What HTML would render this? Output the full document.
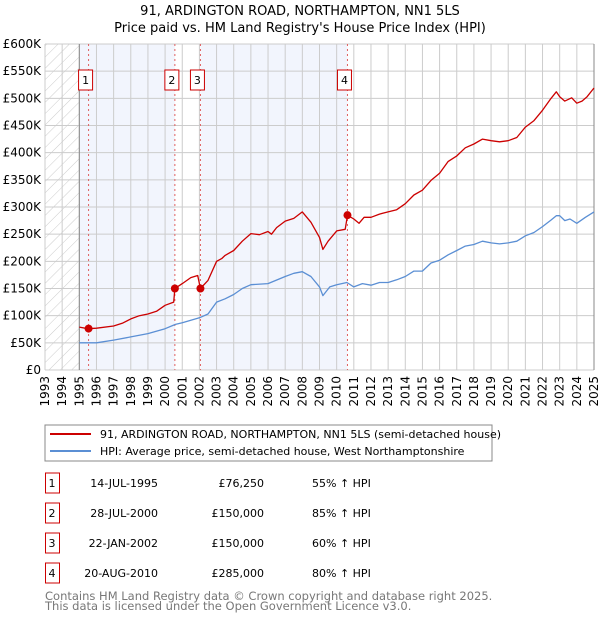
<!DOCTYPE html>
<html><head><meta charset="utf-8"><style>
body{margin:0;background:#fff;width:600px;height:620px;overflow:hidden;font-family:"DejaVu Sans","Liberation Sans",sans-serif}
svg text{font-family:"DejaVu Sans","Liberation Sans",sans-serif}
</style></head><body>
<svg id="c" width="600" height="620">
<defs><pattern id="hatch" width="8" height="8" patternUnits="userSpaceOnUse" patternTransform="rotate(45)"><line x1="0" y1="0" x2="0" y2="8" stroke="#ccc" stroke-width="1"/></pattern></defs>
<text x="300" y="15" text-anchor="middle" font-size="13" fill="#000">91, ARDINGTON ROAD, NORTHAMPTON, NN1 5LS</text>
<text x="300" y="32" text-anchor="middle" font-size="13" fill="#000">Price paid vs. HM Land Registry's House Price Index (HPI)</text>
<g id="plot"></g>
<rect x="45" y="425" width="447" height="36" fill="#fff" stroke="#888"/>
<line x1="50" y1="434" x2="91" y2="434" stroke="#cc0000" stroke-width="2"/>
<text x="100" y="438" font-size="11">91, ARDINGTON ROAD, NORTHAMPTON, NN1 5LS (semi-detached house)</text>
<line x1="50" y1="451" x2="91" y2="451" stroke="#5b8fd4" stroke-width="2"/>
<text x="100" y="455" font-size="11">HPI: Average price, semi-detached house, West Northamptonshire</text>
<g id="tbl" font-size="11"></g>
<text x="45" y="600" font-size="11.5" fill="#777">Contains HM Land Registry data © Crown copyright and database right 2025.</text>
<text x="45" y="610" font-size="11.5" fill="#777">This data is licensed under the Open Government Licence v3.0.</text>
</svg>
<script>
const years=[1993,1994,1995,1996,1997,1998,1999,2000,2001,2002,2003,2004,2005,2006,2007,2008,2009,2010,2011,2012,2013,2014,2015,2016,2017,2018,2019,2020,2021,2022,2023,2024,2025];
const yTicks=[0,50,100,150,200,250,300,350,400,450,500,550,600];
const yTickLabels=["£0","£50K","£100K","£150K","£200K","£250K","£300K","£350K","£400K","£450K","£500K","£550K","£600K"];
const priceT=[1995,1995.5,1996,1997,1997.5,1998,1998.5,1999,1999.5,2000,2000.5,2000.57,2001,2001.5,2001.9,2002.06,2002.5,2003,2003.3,2003.5,2004,2004.5,2005,2005.5,2006,2006.2,2006.5,2007,2007.5,2008,2008.5,2009,2009.2,2009.5,2010,2010.5,2010.63,2011,2011.3,2011.6,2012,2012.5,2013,2013.5,2014,2014.5,2015,2015.5,2016,2016.5,2017,2017.5,2018,2018.5,2019,2019.5,2020,2020.5,2021,2021.5,2022,2022.5,2022.8,2023,2023.3,2023.7,2024,2024.3,2024.6,2025];
const priceV=[79,76,77,81,86,94,100,103,108,119,125,150,159,170,174,150,165,200,205,211,220,237,251,249,255,250,262,274,279,291,272,244,222,237,256,259,285,278,270,281,281,287,291,295,306,322,331,349,362,384,394,409,416,425,422,420,422,428,447,459,478,500,512,503,495,501,491,495,503,519];
const hpiT=[1995,1996,1997,1998,1999,2000,2000.6,2001,2002,2002.5,2003,2003.5,2004,2004.5,2005,2006,2007,2007.5,2008,2008.5,2009,2009.2,2009.6,2010,2010.6,2011,2011.5,2012,2012.5,2013,2013.5,2014,2014.5,2015,2015.5,2016,2016.5,2017,2017.5,2018,2018.5,2019,2019.5,2020,2020.5,2021,2021.5,2022,2022.5,2022.8,2023,2023.3,2023.6,2024,2024.5,2025];
const hpiV=[50,50,55,61,67,76,84,87,96,103,125,131,139,150,157,159,172,178,181,172,153,137,153,157,161,153,159,156,161,161,166,172,182,182,197,202,212,220,228,231,237,234,232,234,237,247,253,264,276,284,284,275,278,270,281,291];
const saleT=[1995.54,2000.57,2002.06,2010.63];
const saleV=[76.25,150,150,285];
const saleLabels=["1","2","3","4"];
const saleDates=["14-JUL-1995","28-JUL-2000","22-JAN-2002","20-AUG-2010"];
const salePrices=["£76,250","£150,000","£150,000","£285,000"];
const saleHpi=["55% ↑ HPI","85% ↑ HPI","60% ↑ HPI","80% ↑ HPI"];
const X0=45,X1=594,Y0=370,Y1=44;
const sx=t=>X0+(t-1993)/(2025-1993)*(X1-X0);
const sy=v=>Y0-v/600*(Y0-Y1);
const NS="http://www.w3.org/2000/svg";
const g=document.getElementById('plot');
function mk(tag,attrs,parent){const e=document.createElementNS(NS,tag);for(const k in attrs)e.setAttribute(k,attrs[k]);(parent||g).appendChild(e);return e;}
let r;
r=mk('rect',{x:X0,y:Y1,width:X1-X0,height:Y0-Y1,fill:'#fff'});


r=mk('rect',{x:X0,y:Y1,width:sx(1995)-X0,height:Y0-Y1,fill:'url(#hatch)'});


const bands=[[1995,saleT[1]],[saleT[2],saleT[3]]];
bands.forEach(b=>{const e=mk('rect',{x:sx(b[0]),y:Y1,width:sx(b[1])-sx(b[0]),height:Y0-Y1,fill:'#f2f5fd'});

});
yTicks.forEach((v,i)=>{const l=mk('line',{x1:X0,x2:X1,y1:sy(v),y2:sy(v),stroke:'#ccc'});


const t=mk('text',{x:X0-4,y:sy(v)+4,'text-anchor':'end','font-size':12});t.textContent=yTickLabels[i];

});
years.forEach(y=>{const l=mk('line',{x1:sx(y),x2:sx(y),y1:Y1,y2:Y0,stroke:'#ccc'});


const t=mk('text',{x:0,y:0,'font-size':12,'text-anchor':'end',transform:`translate(${sx(y)+4},${Y0+6}) rotate(-90)`});t.textContent=y;

});
r=mk('line',{x1:sx(1995),x2:sx(1995),y1:Y1,y2:Y0,stroke:'#888'});


r=mk('line',{x1:X1,x2:X1,y1:Y1,y2:Y0,stroke:'#888'});


saleT.forEach((t,i)=>{const l=mk('line',{x1:sx(t),x2:sx(t),y1:Y1,y2:Y0,stroke:'#e06060','stroke-dasharray':'2,3'});


const bx=mk('rect',{x:sx(t)-10,y:70,width:14,height:20,fill:'#fff',stroke:'#cc0000'});


const tx=mk('text',{x:sx(t)-3,y:84,'text-anchor':'middle','font-size':11});tx.textContent=saleLabels[i];

});
function path(T,V,col,name){const d=T.map((t,i)=>(i?'L':'M')+sx(t).toFixed(1)+','+sy(V[i]).toFixed(1)).join('');
const p=mk('path',{d:d,fill:'none',stroke:col,'stroke-width':1.3,'stroke-linejoin':'round'});

}
path(hpiT,hpiV,'#5b8fd4','hpi-line');
path(priceT,priceV,'#cc0000','price-line');
saleT.forEach((t,i)=>{const c=mk('circle',{cx:sx(t),cy:sy(saleV[i]),r:4,fill:'#cc0000'});

});
const tb=document.getElementById('tbl');
const rowsY=[483,513,543,573];
rowsY.forEach((y,i)=>{const b=mk('rect',{x:45.5,y:y-10,width:14,height:20,fill:'#fff',stroke:'#cc0000'},tb);


const cells=[[52,'middle',saleLabels[i],'table-row-number'],[158,'end',saleDates[i],'table-row-date'],[264,'end',salePrices[i],'table-row-price'],[312,'start',saleHpi[i],'table-row-hpi']];
cells.forEach(c=>{const t=mk('text',{x:c[0],y:y+4,'text-anchor':c[1]},tb);t.textContent=c[2];

});});
</script>
</body></html>
